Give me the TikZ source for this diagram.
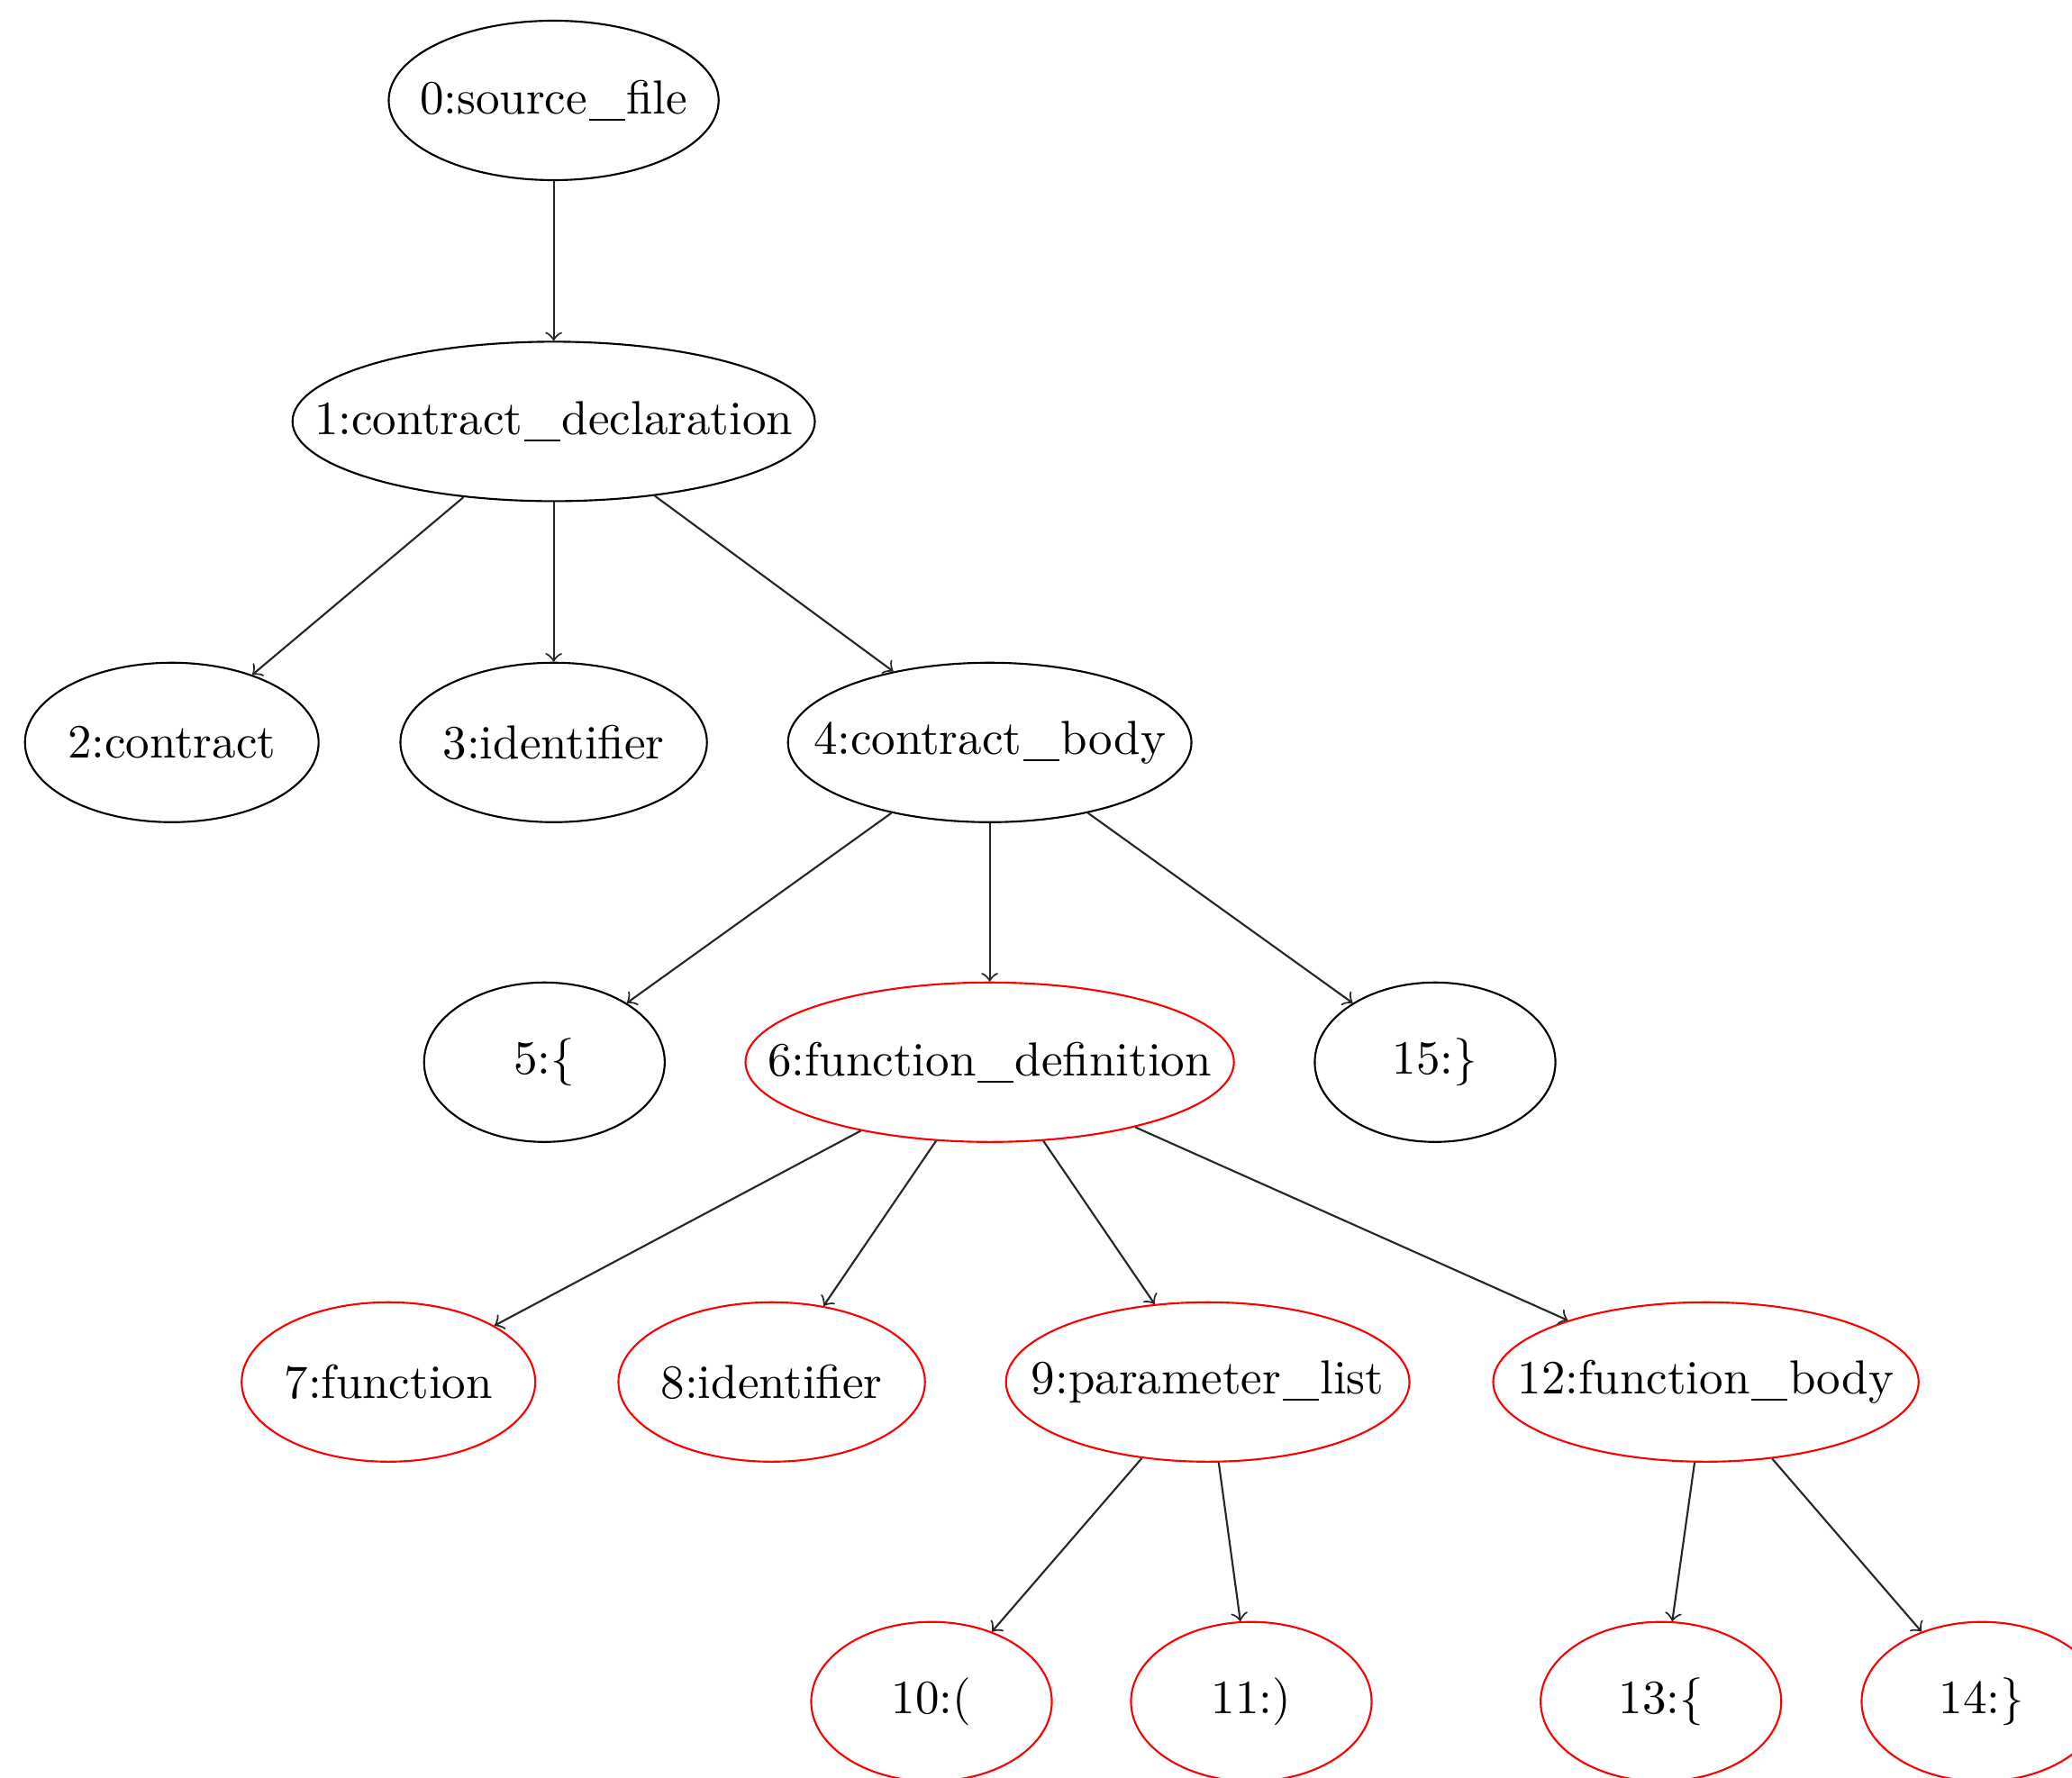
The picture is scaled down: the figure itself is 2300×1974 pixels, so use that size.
\documentclass[tikz,border=0pt]{standalone}
\usetikzlibrary{shapes.geometric}

% wide underscore used in the node names
\newcommand{\ubar}{\kern0.3pt\rule[-1.4pt]{7.6pt}{0.4pt}\kern0.3pt}
% zero-width label so that the ellipse size is set only by the style
\newcommand{\lbl}[1]{\makebox[0pt]{#1}}

\tikzset{
  tnode/.style={ellipse, draw=black, inner sep=0pt, minimum height=33.4pt},
  rnode/.style={tnode, draw=red},
  wA/.style={minimum width=69.1pt},
  wB/.style={minimum width=109.4pt},
  wC/.style={minimum width=61.5pt},
  wD/.style={minimum width=64.2pt},
  wE/.style={minimum width=84.5pt},
  wF/.style={minimum width=50.4pt},
  wG/.style={minimum width=102.3pt},
  wH/.style={minimum width=89.1pt},
  link/.style={->, draw=black!85},
}

\begin{document}
\begin{tikzpicture}[x=0.18868pt, y=-0.18868pt]
  \useasboundingbox (0,0) rectangle (2300,1974);
  \clip (0,0) rectangle (2300,1974);

  % level 0
  \node[tnode, wA] (n0) at (614.6,111.5) {\lbl{0:source\ubar file}};
  % level 1
  \node[tnode, wB] (n1) at (614.6,467.9) {\lbl{1:contract\ubar declaration}};
  % level 2
  \node[tnode, wC] (n2) at (190.7,824.3) {\lbl{2:contract}};
  \node[tnode, wD] (n3) at (614.6,824.3) {\lbl{3:identifier}};
  \node[tnode, wE] (n4) at (1098.6,824.3) {\lbl{4:contract\ubar body}};
  % level 3
  \node[tnode, wF] (n5) at (604.3,1179.3) {\lbl{5:\{}};
  \node[rnode, wG] (n6) at (1098.6,1179.3) {\lbl{6:function\ubar definition}};
  \node[tnode, wF] (n15) at (1593,1179.3) {\lbl{15:\}}};
  % level 4
  \node[rnode, wC] (n7) at (431.2,1534.3) {\lbl{7:function}};
  \node[rnode, wD] (n8) at (856.6,1534.3) {\lbl{8:identifier}};
  \node[rnode, wE] (n9) at (1340.6,1534.3) {\lbl{9:parameter\ubar list}};
  \node[rnode, wH] (n12) at (1893.6,1534.3) {\lbl{12:function\ubar body}};
  % level 5
  \node[rnode, wF] (n10) at (1034,1889.2) {\lbl{10:(}};
  \node[rnode, wF] (n11) at (1389,1889.2) {\lbl{11:)}};
  \node[rnode, wF] (n13) at (1843.7,1889.2) {\lbl{13:\{}};
  \node[rnode, wF] (n14) at (2200,1889.2) {\lbl{14:\}}};

  % parent -> child edges
  \draw[link] (n0) -- (n1);
  \draw[link] (n1) -- (n2);
  \draw[link] (n1) -- (n3);
  \draw[link] (n1) -- (n4);
  \draw[link] (n4) -- (n5);
  \draw[link] (n4) -- (n6);
  \draw[link] (n4) -- (n15);
  \draw[link] (n6) -- (n7);
  \draw[link] (n6) -- (n8);
  \draw[link] (n6) -- (n9);
  \draw[link] (n6) -- (n12);
  \draw[link] (n9) -- (n10);
  \draw[link] (n9) -- (n11);
  \draw[link] (n12) -- (n13);
  \draw[link] (n12) -- (n14);
\end{tikzpicture}
\end{document}
